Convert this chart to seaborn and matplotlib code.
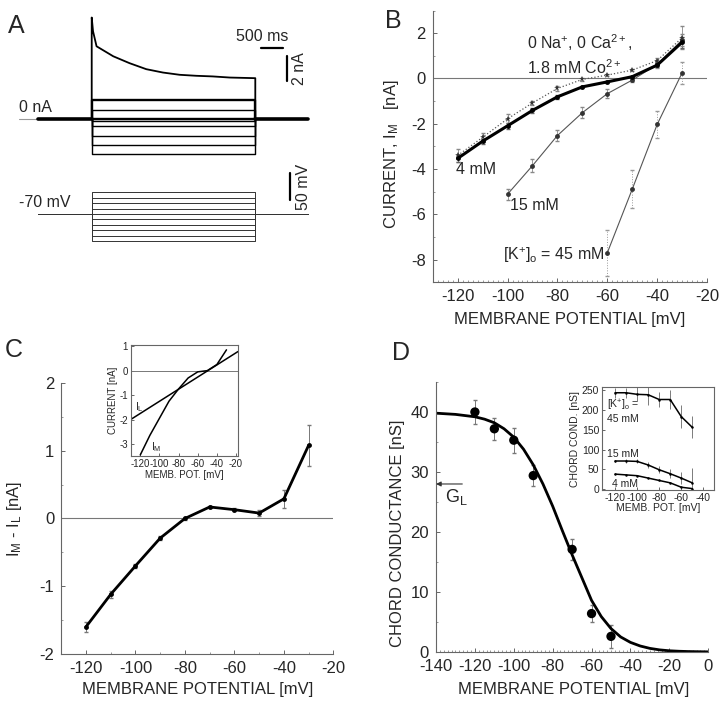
import matplotlib
matplotlib.use('Agg')
import matplotlib.pyplot as plt
import seaborn as sns
from matplotlib.ticker import MultipleLocator

# ---------------- data ----------------
# Panel A: voltage steps and current traces
step_mv = [-30, -40, -50, -60, -70, -80, -90, -100, -110, -120]
hold_mv = -70
step_off_ms = 3720
hold_start_ms = -1230
hold_end_ms = 4910
# -30 mV trace (decaying), read at several times during the step
top_t = [0, 30, 110, 490, 860, 1240, 1620, 2000, 2380, 2750, 3140, 3720]
top_i = [8.1, 7.0, 5.8, 5.0, 4.45, 3.97, 3.7, 3.52, 3.44, 3.39, 3.3, 3.25]
# steady currents for -40 ... -120 mV
level_i = [1.5, 0.7, 0.08, 0.0, -0.2, -0.6, -1.4, -2.1, -2.8]

# Panel B: I-V curves
b_v = [-120, -110, -100, -90, -80, -70, -60, -50, -40, -30]
b_4mM = [-3.53, -2.77, -2.09, -1.41, -0.81, -0.37, -0.15, 0.08, 0.59, 1.6]
b_4mM_err = [0.15, 0.12, 0.12, 0.1, 0.08, 0.05, 0.05, 0.05, 0.1, 0.25]
b_ionfree = [-3.4, -2.6, -1.78, -1.08, -0.44, -0.04, 0.15, 0.37, 0.79, 1.8]
b_ionfree_err = [0.3, 0.2, 0.2, 0.1, 0.1, 0.05, 0.05, 0.05, 0.1, 0.5]
b_15_v = [-100, -90, -80, -70, -60, -50, -40, -30]
b_15mM = [-5.11, -3.85, -2.52, -1.51, -0.67, -0.07, 0.62, 1.7]
b_15mM_err = [0.25, 0.3, 0.25, 0.25, 0.2, 0.1, 0.15, 0.25]
b_45_v = [-60, -50, -40, -30]
b_45mM = [-7.7, -4.89, -2.03, 0.25]
b_45mM_err = [1.0, 0.85, 0.6, 0.5]

# Panel C: difference current
c_v = [-120, -110, -100, -90, -80, -70, -60, -50, -40, -30]
c_diff = [-1.6, -1.12, -0.7, -0.29, 0.0, 0.17, 0.13, 0.08, 0.29, 1.08]
c_err = [0.07, 0.05, 0.03, 0.03, 0.02, 0.02, 0.02, 0.05, 0.13, 0.3]
# inset of C
ci_il_v = [-130, -18]
ci_il_i = [-2.0, 0.78]
ci_im_v = [-120, -110, -100, -90, -80, -70, -60, -50, -40, -30]
ci_im_i = [-3.45, -2.65, -1.95, -1.25, -0.75, -0.3, -0.05, 0.0, 0.25, 0.85]

# Panel D: chord conductance
d_v = [-120, -110, -100, -90, -70, -60, -50]
d_g = [40.0, 37.2, 35.3, 29.4, 17.1, 6.4, 2.6]
d_err = [2.0, 1.8, 2.1, 1.8, 1.8, 1.4, 1.9]
fit_v = [-140, -135, -130, -125, -120, -115, -110, -105, -100, -95, -90, -85, -80,
         -75, -70, -65, -60, -55, -50, -45, -40, -35, -30, -25, -20, -15, -10, -5, 0]
fit_g = [39.8, 39.7, 39.6, 39.4, 39.2, 38.8, 38.2, 37.2, 35.8, 33.8, 31.2, 28.0, 24.3,
         20.2, 16.2, 12.4, 8.6, 5.9, 3.9, 2.5, 1.6, 1.0, 0.6, 0.35, 0.2, 0.12, 0.07, 0.04, 0.02]
g_leak = 28.0
# inset of D
di_v = [-120, -110, -100, -90, -80, -70, -60, -50]
di_45 = [243, 243, 239, 238, 226, 226, 183, 156]
di_45_err = [12, 12, 18, 25, 20, 25, 30, 28]
di_15 = [71, 71, 70, 61, 49, 39, 28, 16]
di_15_err = [3, 4, 5, 7, 9, 11, 15, 38]
di_4 = [38, 36, 34, 28, 22, 16, 5, 1.5]

# ---------------- style ----------------
sns.set_theme(style='ticks')
plt.rcParams['font.family'] = ['Liberation Sans', 'DejaVu Sans']
plt.rcParams['mathtext.fontset'] = 'custom'
plt.rcParams['mathtext.rm'] = 'Liberation Sans'
plt.rcParams['mathtext.it'] = 'Liberation Sans:italic'
plt.rcParams['mathtext.bf'] = 'Liberation Sans:bold'
plt.rcParams['axes.unicode_minus'] = False

FS = 12
TXT = 11.5
SP = '#666666'


def line(ax, x, y, **kw):
    sns.lineplot(x=x, y=y, ax=ax, estimator=None, sort=False, **kw)


def style_axes(ax, fs=FS, box=False):
    if not box:
        sns.despine(ax=ax)
    for s in ax.spines.values():
        s.set_color(SP)
        s.set_linewidth(0.8)
    ax.tick_params(direction='in', length=3, width=0.7, color=SP, labelsize=fs, pad=5)
    ax.tick_params(which='minor', direction='in', length=1.5, width=0.6, color='#888888')


def labels(ax, xl, yl, xpos, ypos):
    ax.set_xlabel(xl, fontsize=FS)
    ax.set_ylabel(yl, fontsize=FS)
    ax.xaxis.set_label_coords(*xpos)
    ax.yaxis.set_label_coords(*ypos)


fig = plt.figure(figsize=(7.2, 7.04), dpi=100)

# ---------------- panel A ----------------
cur = fig.add_axes([0.026, 0.773, 0.404, 0.206])
cur.set_xlim(-1660, 4955)
cur.set_ylim(-3.28, 8.32)
cur.axis('off')
line(cur, [-1660, hold_start_ms], [0, 0], color='#999999', lw=0.8)
for k, lev in enumerate(level_i):
    line(cur, [0, 0, step_off_ms, step_off_ms], [0, lev, lev, 0],
         color='black', lw=1.7 if k == 0 else 1.0)
line(cur, [0] + top_t + [step_off_ms, step_off_ms], [0] + top_i + [top_i[-1], 0],
     color='black', lw=1.3)
line(cur, [hold_start_ms, 0], [0, 0], color='black', lw=2.6)
line(cur, [step_off_ms, hold_end_ms], [0, 0], color='black', lw=2.6)
# scale bars
line(cur, [3840, 4340], [5.65, 5.65], color='black', lw=1.6)
line(cur, [4430, 4430], [3.0, 5.0], color='black', lw=1.6)
cur.text(3870, 6.0, '500 ms', ha='center', va='bottom', fontsize=TXT)
cur.text(4560, 4.0, '2 nA', ha='left', va='center', rotation=90, fontsize=TXT)
cur.text(-1660, 0.3, '0 nA', ha='left', va='bottom', fontsize=TXT)

vol = fig.add_axes([0.026, 0.645, 0.404, 0.1136])
vol.set_xlim(-1660, 4955)
vol.set_ylim(-136.7, 11.5)
vol.axis('off')
for mv in step_mv:
    line(vol, [hold_start_ms, 0, 0, step_off_ms, step_off_ms, hold_end_ms],
         [hold_mv, hold_mv, mv, mv, hold_mv, hold_mv], color='#333333', lw=0.7)
line(vol, [4520, 4520], [-45, 5], color='black', lw=1.6)
vol.text(4650, -20, '50 mV', ha='left', va='center', rotation=90, fontsize=TXT)
vol.text(-1660, -62, '-70 mV', ha='left', va='bottom', fontsize=TXT)

# ---------------- panel B ----------------
axb = fig.add_axes([0.601, 0.599, 0.381, 0.386])
axb.axhline(0, color='#777777', lw=0.8)
axb.errorbar(b_v, b_ionfree, yerr=b_ionfree_err, fmt='none', ecolor='#888888',
             elinewidth=0.6, ls=':', capsize=1.2)
axb.errorbar(b_v, b_4mM, yerr=b_4mM_err, fmt='none', ecolor='#666666', elinewidth=0.6, capsize=1.2)
axb.errorbar(b_15_v, b_15mM, yerr=b_15mM_err, fmt='none', ecolor='#888888', elinewidth=0.6, capsize=1.2)
eb = axb.errorbar(b_45_v, b_45mM, yerr=b_45mM_err, fmt='none', ecolor='#999999', elinewidth=0.7, capsize=1.2)
eb[2][0].set_linestyle(':')
line(axb, b_v, b_ionfree, color='#555555', lw=0.9, linestyle=':', marker='*', ms=4.5,
     markeredgewidth=0, markerfacecolor='#333333')
line(axb, b_15_v, b_15mM, color='#555555', lw=0.8, marker='o', ms=3.5,
     markeredgewidth=0, markerfacecolor='#333333')
line(axb, b_45_v, b_45mM, color='#555555', lw=0.8, marker='o', ms=3.5,
     markeredgewidth=0, markerfacecolor='#333333')
line(axb, b_v, b_4mM, color='black', lw=2.2, marker='o', ms=3.5, markeredgewidth=0)
axb.set_xlim(-130, -20)
axb.set_ylim(-9, 3)
axb.xaxis.set_major_locator(MultipleLocator(20))
axb.xaxis.set_minor_locator(MultipleLocator(2))
axb.yaxis.set_major_locator(MultipleLocator(2))
axb.yaxis.set_minor_locator(MultipleLocator(1))
style_axes(axb)
labels(axb, 'MEMBRANE POTENTIAL [mV]', r'CURRENT, I$_\mathrm{M}$   [nA]',
       (0.5, -0.11), (-0.117, 0.47))
axb.text(-92, 1.6, r'0 Na$^{+}$, 0 Ca$^{2+}$,', fontsize=TXT, va='center')
axb.text(-92, 0.5, r'1.8 mM Co$^{2+}$', fontsize=TXT, va='center')
axb.text(-120.6, -4.0, '4 mM', fontsize=TXT, va='center')
axb.text(-99, -5.63, '15 mM', fontsize=TXT, va='center')
axb.text(-61, -7.8, r'[K$^{+}$]$_\mathrm{o}$ = 45 mM', fontsize=TXT, va='center', ha='right')

# ---------------- panel C ----------------
axc = fig.add_axes([0.085, 0.071, 0.378, 0.385])
axc.axhline(0, color='#777777', lw=0.8)
axc.errorbar(c_v, c_diff, yerr=c_err, fmt='none', ecolor='#777777', elinewidth=0.7, capsize=1.5)
line(axc, c_v, c_diff, color='black', lw=2.0, marker='o', ms=3.5, markeredgewidth=0)
axc.set_xlim(-130, -20)
axc.set_ylim(-2, 2)
axc.xaxis.set_major_locator(MultipleLocator(20))
axc.xaxis.set_minor_locator(MultipleLocator(10))
axc.yaxis.set_major_locator(MultipleLocator(1))
axc.yaxis.set_minor_locator(MultipleLocator(0.5))
style_axes(axc)
labels(axc, 'MEMBRANE POTENTIAL [mV]', r'I$_\mathrm{M}$ - I$_\mathrm{L}$ [nA]',
       (0.5, -0.103), (-0.136, 0.5))

axci = fig.add_axes([0.1815, 0.352, 0.149, 0.158])
axci.axhline(0, color='#777777', lw=0.7)
line(axci, ci_il_v, ci_il_i, color='black', lw=1.1)
line(axci, ci_im_v, ci_im_i, color='black', lw=1.1)
axci.set_xlim(-130, -18)
axci.set_ylim(-3.5, 1.05)
axci.xaxis.set_major_locator(MultipleLocator(20))
axci.yaxis.set_major_locator(MultipleLocator(1))
style_axes(axci, fs=7, box=True)
axci.tick_params(length=2, pad=2)
axci.set_xlabel('MEMB. POT. [mV]', fontsize=7, labelpad=0.5)
axci.set_ylabel('CURRENT [nA]', fontsize=7, labelpad=1)
axci.text(-126, -1.5, r'I$_\mathrm{L}$', fontsize=7.5, va='center')
axci.text(-109, -3.12, r'I$_\mathrm{M}$', fontsize=7.5, va='center')

# ---------------- panel D ----------------
axd = fig.add_axes([0.6056, 0.0739, 0.378, 0.3835])
axd.errorbar(d_v, d_g, yerr=d_err, fmt='none', ecolor='#777777', elinewidth=0.7, capsize=1.5)
line(axd, fit_v, fit_g, color='black', lw=2.0)
sns.scatterplot(x=d_v, y=d_g, ax=axd, color='black', s=45, edgecolor='none', zorder=3)
axd.annotate('', xy=(-140, g_leak), xytext=(-126.5, g_leak),
             arrowprops=dict(arrowstyle='-|>', color='#333333', lw=0.8,
                             mutation_scale=7, shrinkA=0, shrinkB=0))
axd.text(-135.5, 25.8, r'G$_\mathrm{L}$', fontsize=FS + 1, va='center')
axd.set_xlim(-140, 0)
axd.set_ylim(0, 45)
axd.xaxis.set_major_locator(MultipleLocator(20))
axd.xaxis.set_minor_locator(MultipleLocator(2))
axd.yaxis.set_major_locator(MultipleLocator(10))
axd.yaxis.set_minor_locator(MultipleLocator(5))
style_axes(axd)
labels(axd, 'MEMBRANE POTENTIAL [mV]', 'CHORD CONDUCTANCE [nS]',
       (0.504, -0.111), (-0.114, 0.44))

axdi = fig.add_axes([0.836, 0.304, 0.156, 0.146])
axdi.errorbar(di_v, di_45, yerr=di_45_err, fmt='none', ecolor='#666666', elinewidth=0.6)
axdi.errorbar(di_v, di_15, yerr=di_15_err, fmt='none', ecolor='#666666', elinewidth=0.6)
for g in [di_45, di_15, di_4]:
    line(axdi, di_v, g, color='black', lw=1.1, marker='o', ms=1.8, markeredgewidth=0)
axdi.set_xlim(-132, -30)
axdi.set_ylim(-2, 257)
axdi.xaxis.set_major_locator(MultipleLocator(20))
axdi.yaxis.set_major_locator(MultipleLocator(50))
style_axes(axdi, fs=7.5, box=True)
axdi.tick_params(length=2, pad=2)
axdi.set_xlabel('MEMB. POT. [mV]', fontsize=7.5, labelpad=0.5)
axdi.set_ylabel('CHORD COND. [nS]', fontsize=7.5, labelpad=1)
axdi.text(-127.5, 210, r'[K$^{+}$]$_\mathrm{o}$ =', fontsize=7.5, va='center')
axdi.text(-127.5, 176, '45 mM', fontsize=7.5, va='center')
axdi.text(-127.5, 88, '15 mM', fontsize=7.5, va='center')
axdi.text(-123, 13, '4 mM', fontsize=7.5, va='center')

# panel letters
for lab, x, y in [('A', 0.011, 0.953), ('B', 0.535, 0.960), ('C', 0.007, 0.493), ('D', 0.544, 0.489)]:
    fig.text(x, y, lab, fontsize=18, va='baseline')

fig.savefig('out.png', dpi=100)
